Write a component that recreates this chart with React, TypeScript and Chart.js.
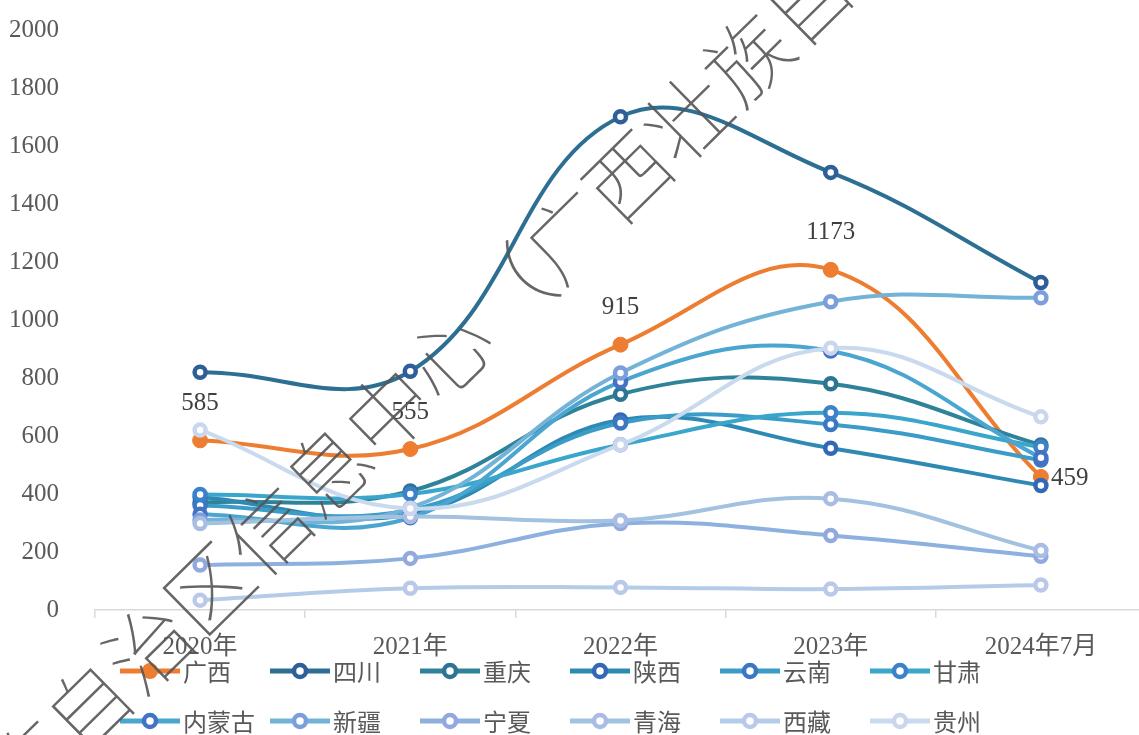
import React, { useEffect, useRef } from 'react';
import { Chart, registerables } from 'chart.js';

Chart.register(...registerables);

const categories = ['2020年', '2021年', '2022年', '2023年', '2024年7月'];
const seriesNames = ['广西', '四川', '重庆', '陕西', '云南', '甘肃', '内蒙古', '新疆', '宁夏', '青海', '西藏', '贵州'];
const guangxi = [585, 555, 915, 1173, 459];
const sichuan = [820, 823, 1701, 1509, 1129];
const chongqing = [370, 410, 744, 780, 569];
const shaanxi = [390, 330, 655, 558, 429];
const yunnan = [360, 345, 645, 640, 517];
const gansu = [398, 400, 570, 680, 562];
const neimenggu = [330, 318, 787, 893, 525];
const xinjiang = [310, 352, 817, 1063, 1077];
const ningxia = [155, 178, 298, 257, 185];
const qinghai = [298, 322, 309, 384, 205];
const xizang = [34, 75, 78, 72, 86];
const guizhou = [621, 350, 570, 903, 666];
const yTicks = [0, 200, 400, 600, 800, 1000, 1200, 1400, 1600, 1800, 2000];
const labelledSeries = guangxi;
const watermark = '广西壮族自治区信息中心（广西壮族自治区信息中心）';

const seriesValues = [guangxi, sichuan, chongqing, shaanxi, yunnan, gansu, neimenggu, xinjiang, ningxia, qinghai, xizang, guizhou];
const lineColors = ['#ED7D31', '#2D6E93', '#2E8399', '#2F8AB3', '#3A9CC7', '#3AA6CC', '#4AA6D0', '#74B3D8', '#8DB0DE', '#A3C2E0', '#B5CCE8', '#C9DAEE'];
const markerColors = ['#ED7D31', '#2F5F98', '#2E7494', '#3268B5', '#3B78C4', '#3C82C8', '#4472C4', '#7A9FDB', '#93A9DE', '#A9BCE4', '#BAC9EA', '#CAD6EE'];

const serifFont = '"Liberation Serif", "Times New Roman", "Noto Sans CJK SC", serif';
const cjkFont = '"Noto Sans CJK SC", "Liberation Sans", sans-serif';

const labelPlugin = {
  id: 'gxLabels',
  afterDatasetsDraw(chart: any) {
    const meta = chart.getDatasetMeta(0);
    const ctx = chart.ctx;
    ctx.save();
    ctx.font = '25px ' + serifFont;
    ctx.fillStyle = '#404040';
    ctx.textBaseline = 'middle';
    meta.data.forEach((pt: any, i: number) => {
      const v = labelledSeries[i];
      if (i === labelledSeries.length - 1) {
        ctx.textAlign = 'left';
        ctx.fillText(String(v), pt.x + 10, pt.y + 2);
      } else {
        ctx.textAlign = 'center';
        ctx.fillText(String(v), pt.x, pt.y - 37);
      }
    });
    ctx.restore();
  },
};

function LegendSymbol({ color, marker, filled }: { color: string; marker: string; filled: boolean }) {
  return (
    <svg width={60} height={20} style={{ display: 'block' }}>
      <line x1={0} y1={10} x2={60} y2={10} stroke={color} strokeWidth={5} />
      {filled ? (
        <circle cx={30} cy={10} r={8} fill={color} />
      ) : (
        <circle cx={30} cy={10} r={6} fill="#FFFFFF" stroke={marker} strokeWidth={4.5} />
      )}
    </svg>
  );
}

export default function App() {
  const canvasRef = useRef<HTMLCanvasElement | null>(null);

  useEffect(() => {
    const canvas = canvasRef.current;
    if (!canvas) return;
    const datasets = seriesNames.map((name, i) => {
      const isFilled = i === 0;
      return {
        label: name,
        data: seriesValues[i],
        borderColor: lineColors[i],
        backgroundColor: lineColors[i],
        borderWidth: 4,
        tension: 0.4,
        cubicInterpolationMode: 'default' as const,
        pointRadius: isFilled ? 7.5 : 5.5,
        pointBorderWidth: isFilled ? 1 : 4.5,
        pointBackgroundColor: isFilled ? lineColors[i] : '#FFFFFF',
        pointBorderColor: markerColors[i],
        fill: false,
        order: seriesNames.length - 1 - i,
      };
    });
    const chart = new Chart(canvas, {
      type: 'line',
      data: { labels: categories, datasets },
      options: {
        animation: false,
        responsive: false,
        maintainAspectRatio: false,
        devicePixelRatio: 1,
        layout: { padding: { left: 0, right: 3, top: 14, bottom: 0 } },
        plugins: { legend: { display: false }, tooltip: { enabled: false } },
        scales: {
          x: {
            offset: true,
            grid: { display: true, drawOnChartArea: false, drawTicks: true, tickLength: 8, color: '#D9D9D9', offset: true, lineWidth: 1.5 },
            border: { display: true, color: '#D9D9D9', width: 1.5 },
            ticks: { color: '#595959', font: { family: serifFont, size: 25 }, padding: 14, maxRotation: 0, autoSkip: false },
            afterFit: (s: any) => { s.height = 125; },
          },
          y: {
            min: yTicks[0],
            max: yTicks[yTicks.length - 1],
            ticks: {
              stepSize: yTicks[1] - yTicks[0],
              color: '#595959',
              font: { family: serifFont, size: 25 },
              padding: 28,
              callback: (v: any) => String(v),
            },
            grid: { display: false },
            border: { display: false },
            afterFit: (s: any) => { s.width = 95; },
          },
        },
      },
      plugins: [labelPlugin],
    } as any);
    return () => chart.destroy();
  }, []);

  // watermark placement along a diagonal
  const angle = -44.5;
  const fs = 84;
  const rad = (angle * Math.PI) / 180;
  const anchorIdx = 8; // 息
  const ax = 325, ay = 468;
  const ox = ax - (anchorIdx + 0.5) * fs * Math.cos(rad);
  const oy = ay - (anchorIdx + 0.5) * fs * Math.sin(rad);

  return (
    <div style={{ position: 'absolute', left: 0, top: 0, width: 1139, height: 735, overflow: 'hidden', background: '#FFFFFF' }}>
      <canvas ref={canvasRef} width={1156} height={748} style={{ position: 'absolute', left: 0, top: -13, width: 1156, height: 748 }} />
      {seriesNames.map((name, i) => {
        const col = i % 6;
        const row = Math.floor(i / 6);
        const cy = row === 0 ? 671 : 721;
        return (
          <div key={name} style={{ position: 'absolute', left: 120 + 150 * col, top: cy - 16, height: 32, display: 'flex', alignItems: 'center' }}>
            <LegendSymbol color={lineColors[i]} marker={markerColors[i]} filled={i === 0} />
            <span style={{ marginLeft: 3, fontFamily: cjkFont, fontSize: 24, color: '#595959', lineHeight: '32px', whiteSpace: 'nowrap' }}>{name}</span>
          </div>
        );
      })}
      <div
        style={{
          position: 'absolute',
          left: ox,
          top: oy - fs / 2,
          height: fs,
          lineHeight: fs + 'px',
          fontSize: fs,
          fontFamily: cjkFont,
          fontWeight: 100,
          color: 'rgba(85,85,85,0.9)',
          whiteSpace: 'nowrap',
          transformOrigin: '0 50%',
          transform: `rotate(${angle}deg)`,
          pointerEvents: 'none',
        }}
      >
        {watermark}
      </div>
    </div>
  );
}
